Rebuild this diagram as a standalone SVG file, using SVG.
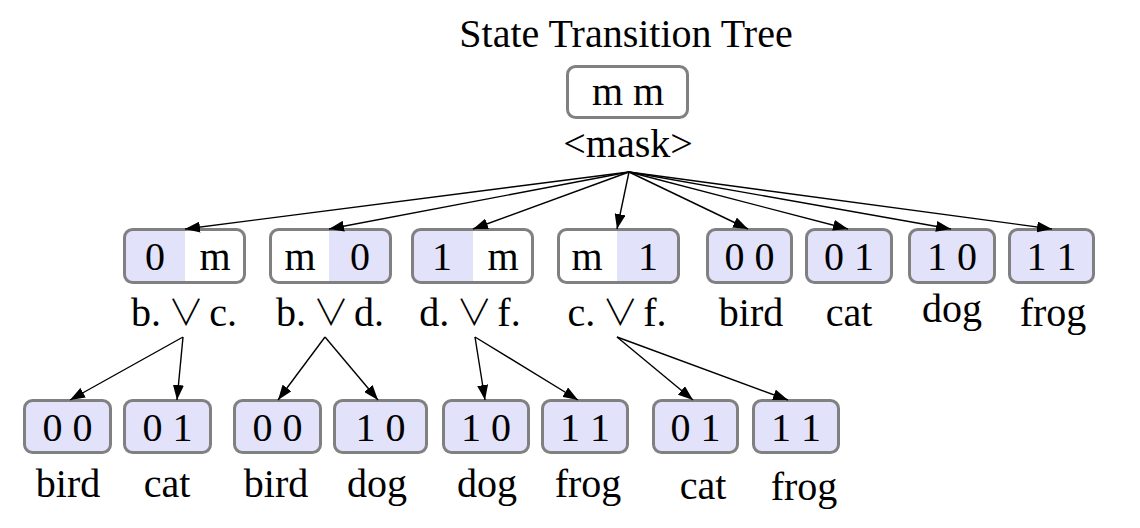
<svg xmlns="http://www.w3.org/2000/svg" width="1140" height="528" viewBox="0 0 1140 528">
<style>
text{font-family:"Liberation Serif","Times New Roman",serif;font-size:40px;fill:#000;text-anchor:middle}
.or{font-family:"Noto Sans CJK JP","DejaVu Sans",sans-serif;font-weight:300;font-size:36px;letter-spacing:-5px}
.box{fill:none;stroke:#808080;stroke-width:3}
.bl{fill:#e2e2fa}
.wh{fill:#fff}
.edge{stroke:#000;stroke-width:1.4;fill:none;marker-end:url(#ah)}
</style>
<defs>
<marker id="ah" markerUnits="userSpaceOnUse" markerWidth="15" markerHeight="11" refX="15" refY="5.5" orient="auto">
<path d="M0,0 L15,5.5 L0,11 z" fill="#000"/>
</marker>
<clipPath id="c1"><rect x="124.5" y="229.5" width="120" height="53" rx="8"/></clipPath>
<clipPath id="c2"><rect x="270.5" y="229.5" width="120" height="53" rx="8"/></clipPath>
<clipPath id="c3"><rect x="412.5" y="229.5" width="120" height="53" rx="8"/></clipPath>
<clipPath id="c4"><rect x="558.5" y="229.5" width="120" height="53" rx="8"/></clipPath>
</defs>
<rect width="1140" height="528" fill="#fff"/>
<text x="626" y="47">State Transition Tree</text>

<g id="root">
<rect x="567.5" y="66.5" width="120" height="51" rx="8" class="wh"/>
<rect x="567.5" y="66.5" width="120" height="51" rx="8" class="box"/>
<text x="628" y="105">m m</text>
<text x="628" y="157">&lt;mask&gt;</text>
</g>

<g id="n_bc">
<g clip-path="url(#c1)"><rect x="124" y="229" width="61" height="54" class="bl"/><rect x="185" y="229" width="61" height="54" class="wh"/></g>
<rect x="124.5" y="229.5" width="120" height="53" rx="8" class="box"/>
<text x="155" y="270">0</text><text x="215" y="270">m</text>
<text x="184" y="326">b. <tspan class="or" dx="-3">∨</tspan> c.</text>
</g>
<g id="n_bd">
<g clip-path="url(#c2)"><rect x="270" y="229" width="59" height="54" class="wh"/><rect x="329" y="229" width="62" height="54" class="bl"/></g>
<rect x="270.5" y="229.5" width="120" height="53" rx="8" class="box"/>
<text x="300" y="270">m</text><text x="360" y="270">0</text>
<text x="330" y="326">b. <tspan class="or" dx="-3">∨</tspan> d.</text>
</g>
<g id="n_df">
<g clip-path="url(#c3)"><rect x="412" y="229" width="61" height="54" class="bl"/><rect x="473" y="229" width="61" height="54" class="wh"/></g>
<rect x="412.5" y="229.5" width="120" height="53" rx="8" class="box"/>
<text x="442" y="270">1</text><text x="503" y="270">m</text>
<text x="470" y="326">d. <tspan class="or" dx="-3">∨</tspan> f.</text>
</g>
<g id="n_cf">
<g clip-path="url(#c4)"><rect x="558" y="229" width="59" height="54" class="wh"/><rect x="617" y="229" width="62" height="54" class="bl"/></g>
<rect x="558.5" y="229.5" width="120" height="53" rx="8" class="box"/>
<text x="587" y="270">m</text><text x="648" y="270">1</text>
<text x="617" y="326">c. <tspan class="or" dx="-3">∨</tspan> f.</text>
</g>
<g id="n_bird1">
<rect x="707.5" y="229.5" width="84" height="53" rx="8" class="bl"/>
<rect x="707.5" y="229.5" width="84" height="53" rx="8" class="box"/>
<text x="749.5" y="270">0 0</text><text x="751" y="326">bird</text>
</g>
<g id="n_cat1">
<rect x="806.5" y="229.5" width="85" height="53" rx="8" class="bl"/>
<rect x="806.5" y="229.5" width="85" height="53" rx="8" class="box"/>
<text x="849" y="270">0 1</text><text x="849" y="326">cat</text>
</g>
<g id="n_dog1">
<rect x="909.5" y="229.5" width="85" height="53" rx="8" class="bl"/>
<rect x="909.5" y="229.5" width="85" height="53" rx="8" class="box"/>
<text x="952" y="270">1 0</text><text x="952" y="322">dog</text>
</g>
<g id="n_frog1">
<rect x="1009.5" y="229.5" width="84" height="53" rx="8" class="bl"/>
<rect x="1009.5" y="229.5" width="84" height="53" rx="8" class="box"/>
<text x="1051.5" y="270">1 1</text><text x="1053" y="326">frog</text>
</g>

<g id="n_a">
<rect x="24.5" y="400.5" width="86" height="52" rx="8" class="bl"/>
<rect x="24.5" y="400.5" width="86" height="52" rx="8" class="box"/>
<text x="67.5" y="441">0 0</text><text x="68" y="497">bird</text>
</g>
<g id="n_b">
<rect x="124.5" y="400.5" width="86" height="52" rx="8" class="bl"/>
<rect x="124.5" y="400.5" width="86" height="52" rx="8" class="box"/>
<text x="167.5" y="441">0 1</text><text x="167" y="497">cat</text>
</g>
<g id="n_c">
<rect x="234.5" y="400.5" width="86" height="52" rx="8" class="bl"/>
<rect x="234.5" y="400.5" width="86" height="52" rx="8" class="box"/>
<text x="277.5" y="441">0 0</text><text x="276" y="497">bird</text>
</g>
<g id="n_d">
<rect x="334.5" y="400.5" width="92" height="52" rx="8" class="bl"/>
<rect x="334.5" y="400.5" width="92" height="52" rx="8" class="box"/>
<text x="380.5" y="441">1 0</text><text x="377" y="497">dog</text>
</g>
<g id="n_e">
<rect x="443.5" y="400.5" width="85" height="52" rx="8" class="bl"/>
<rect x="443.5" y="400.5" width="85" height="52" rx="8" class="box"/>
<text x="486" y="441">1 0</text><text x="487" y="497">dog</text>
</g>
<g id="n_f">
<rect x="542.5" y="400.5" width="85" height="52" rx="8" class="bl"/>
<rect x="542.5" y="400.5" width="85" height="52" rx="8" class="box"/>
<text x="585" y="441">1 1</text><text x="588" y="497">frog</text>
</g>
<g id="n_g">
<rect x="653.5" y="400.5" width="84" height="52" rx="8" class="bl"/>
<rect x="653.5" y="400.5" width="84" height="52" rx="8" class="box"/>
<text x="695.5" y="441">0 1</text><text x="703" y="499">cat</text>
</g>
<g id="n_h">
<rect x="753.5" y="400.5" width="85" height="52" rx="8" class="bl"/>
<rect x="753.5" y="400.5" width="85" height="52" rx="8" class="box"/>
<text x="796" y="441">1 1</text><text x="804" y="500">frog</text>
</g>

<g id="edges">
<line x1="629" y1="172" x2="185" y2="229" class="edge"/>
<line x1="629" y1="172" x2="329" y2="229" class="edge"/>
<line x1="629" y1="172" x2="473" y2="229" class="edge"/>
<line x1="629" y1="172" x2="617" y2="229" class="edge"/>
<line x1="629" y1="172" x2="748" y2="229" class="edge"/>
<line x1="629" y1="172" x2="848" y2="229" class="edge"/>
<line x1="629" y1="172" x2="951" y2="229" class="edge"/>
<line x1="629" y1="172" x2="1052" y2="229" class="edge"/>
<line x1="183" y1="337" x2="70" y2="400" class="edge"/>
<line x1="183" y1="337" x2="177" y2="400" class="edge"/>
<line x1="325" y1="337" x2="278" y2="400" class="edge"/>
<line x1="325" y1="337" x2="378" y2="400" class="edge"/>
<line x1="475" y1="337" x2="485" y2="400" class="edge"/>
<line x1="475" y1="337" x2="578" y2="400" class="edge"/>
<line x1="617" y1="337" x2="693" y2="400" class="edge"/>
<line x1="617" y1="337" x2="788" y2="400" class="edge"/>
</g>
</svg>
